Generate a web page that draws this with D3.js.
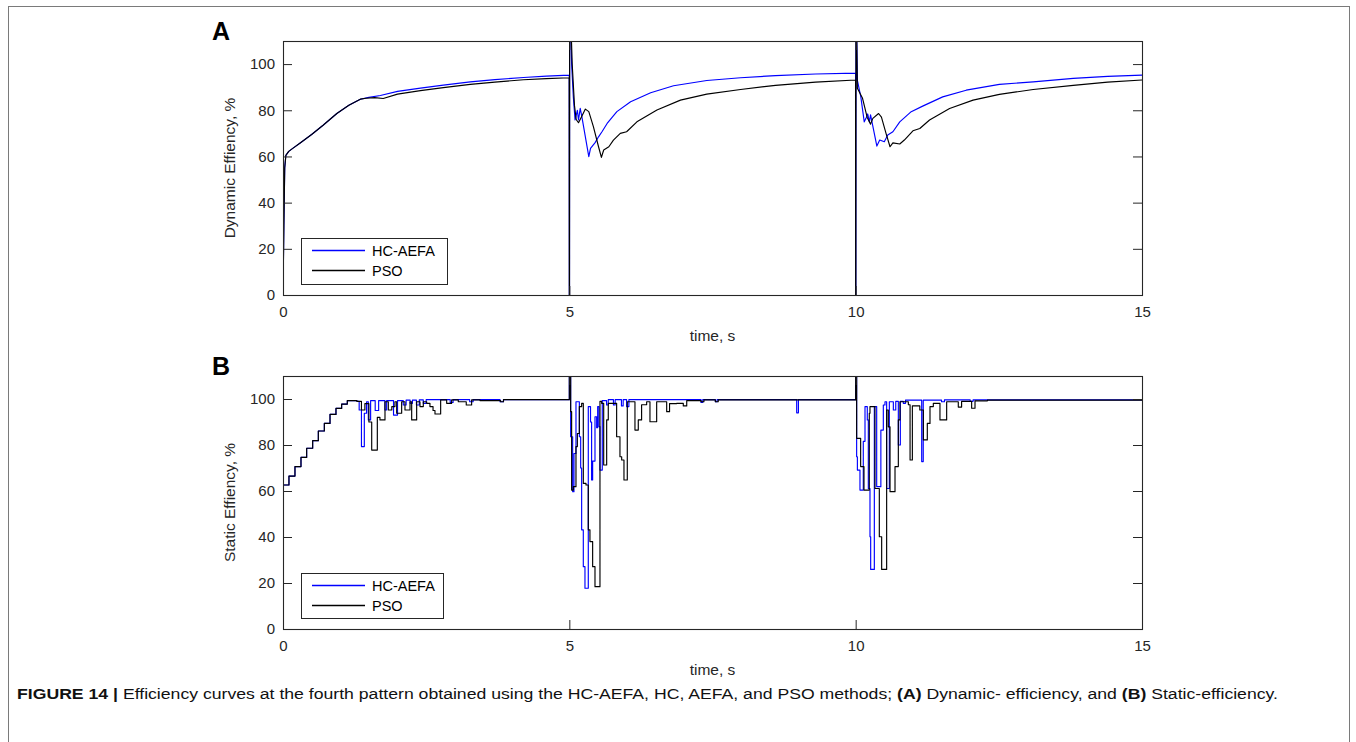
<!DOCTYPE html>
<html>
<head>
<meta charset="utf-8">
<script src="https://cdn.jsdelivr.net/npm/d3@7"></script>
<style>
  html, body { margin: 0; padding: 0; background: #fff; }
  svg { display: block; font-family: "Liberation Sans", Arial, Helvetica, sans-serif; }
</style>
</head>
<body>
<svg id="fig" width="1356" height="742"></svg>
<script>
// ---- data: [time (s), efficiency (%)] ----
const dynamicHC = [
  [0,0],[0.015,30],[0.03,55],[0.05,60.5],[0.1,62.2],[0.17,63.5],[0.3,65.8],[0.5,69.5],[0.7,73.5],
  [0.94,78.6],[1.15,82.2],[1.35,84.8],[1.5,85.6],[1.7,86.4],[2.0,88.2],[2.4,89.6],[2.8,90.9],
  [3.27,92.3],[3.7,93.3],[4.2,94.2],[4.6,94.8],[4.998,95.2],
  [5.0,0],[5.003,0],[5.006,135],[5.04,100],[5.07,85.8],[5.10,75.8],[5.14,80],[5.16,75.8],[5.19,80.8],
  [5.22,77],[5.34,59.9],[5.37,63.5],[5.45,66],[5.51,68.5],[5.57,70.7],[5.66,74.3],[5.83,79.4],
  [6.07,83.7],[6.42,87.6],[6.82,90.6],[7.4,92.9],[7.99,94.1],[8.6,95],[9.3,95.7],[9.998,96.1],
  [10.0,0],[10.003,0],[10.006,135],[10.03,93],[10.09,85.8],[10.15,75],[10.18,76.5],[10.21,78.4],
  [10.24,75],[10.26,78],[10.37,64.5],[10.42,67.1],[10.5,66.4],[10.56,69.3],[10.65,70.7],[10.77,75],
  [10.97,79.4],[11.17,81.8],[11.52,85.8],[11.93,88.7],[12.51,91.2],[13.1,92.3],[13.8,93.8],
  [14.4,94.7],[15,95.2]
];
const dynamicPSO = [
  [0,0],[0.015,30],[0.03,55],[0.05,60.5],[0.1,62.2],[0.17,63.5],[0.3,65.8],[0.5,69.5],[0.7,73.5],
  [0.94,78.6],[1.15,82.2],[1.35,84.8],[1.45,85.2],[1.6,85.5],[1.75,85.1],[2.0,87],[2.4,88.5],
  [2.8,89.8],[3.27,91.2],[3.7,92.2],[4.2,93.2],[4.6,93.7],[4.998,94.1],
  [5.0,0],[5.003,0],[5.006,135],[5.05,100],[5.09,82],[5.12,76],[5.16,74.6],[5.22,77.5],[5.28,80.5],
  [5.34,79.4],[5.42,72.9],[5.51,64.2],[5.56,59.6],[5.60,62.8],[5.69,64.2],[5.77,67.1],[5.89,70],
  [6.0,70.7],[6.18,75],[6.53,80.1],[6.94,84.4],[7.4,87],[7.99,89],[8.6,90.8],[9.3,92.2],[9.998,93.1],
  [10.0,0],[10.003,0],[10.006,135],[10.03,89.5],[10.12,85.2],[10.2,77],[10.26,74],[10.3,76.5],
  [10.4,78.6],[10.45,77],[10.53,70],[10.6,64.2],[10.65,65.9],[10.77,65.4],[10.85,67.1],[11.0,71.1],
  [11.12,72.1],[11.29,75.8],[11.64,80.8],[12.05,84.4],[12.51,86.9],[13.1,89],[13.8,90.8],
  [14.4,92.2],[15,93.1]
];
const staticHC = [
  [0,25],[0.004,62.6],[0.104,66.5],[0.209,70.6],[0.314,74.6],[0.413,78.6],[0.518,81.9],[0.617,86.1],
  [0.722,89.4],[0.821,93.3],[0.925,95.9],[1.024,97.8],[1.123,99.3],[1.29,99],[1.33,95.2],[1.37,79.3],
  [1.42,93.8],[1.46,98.8],[1.49,90.9],[1.53,99.3],[1.61,95],[1.67,99.3],[1.78,95.2],[1.81,99.3],
  [1.93,93],[2.0,99.3],[2.1,97.4],[2.15,99.5],[2.22,98.1],[2.26,99.5],[2.33,97.4],[2.38,99.6],
  [2.45,98.1],[2.5,99.7],[2.92,98.5],[2.97,99.7],[3.26,98.8],[3.32,99.7],[3.79,98.8],[3.85,99.7],
  [5.0,99.7],
  [5.0,115],[5.023,83.6],[5.058,59.7],[5.081,76.3],[5.116,98.8],[5.175,83.6],[5.198,70],[5.215,43.1],
  [5.244,27.1],[5.273,17.7],[5.331,96.7],[5.37,90],[5.389,64.8],[5.407,73],[5.448,92.3],[5.477,87.5],
  [5.495,96.7],[5.518,88],[5.535,69.1],[5.575,99.3],[5.65,97.4],[5.68,99.7],[5.77,97.4],[5.8,99.7],
  [5.91,97],[5.94,99.7],[6.0,96.7],[6.04,99.7],[7.3,98.5],[7.33,99.7],[7.55,98.8],[7.58,99.7],
  [8.97,94],[9.0,99.7],[10.0,99.7],
  [10.0,115],[10.017,74.9],[10.03,69.1],[10.075,60.4],[10.133,81.6],[10.163,96.7],[10.203,90.9],
  [10.221,61.1],[10.25,40.1],[10.262,25.9],[10.326,96.7],[10.367,61.9],[10.44,86.5],[10.483,97.4],
  [10.512,98.8],[10.541,61.1],[10.588,98.8],[10.658,95.2],[10.7,99],[10.745,80],[10.78,99],
  [10.832,98.1],[10.87,99.5],[11.153,72.8],[11.18,99.5],[11.5,98.8],[11.55,99.6],[12.0,99],
  [12.05,99.6],[15,99.6]
];
const staticPSO = [
  [0,80],[0.005,62.6],[0.104,66.5],[0.209,70.6],[0.314,74.6],[0.413,78.6],[0.518,81.9],[0.617,86.1],
  [0.722,89.4],[0.821,93.3],[0.925,95.9],[1.024,97.8],[1.123,99.3],[1.29,99],[1.37,95.2],[1.43,98],
  [1.5,90],[1.549,77.8],[1.647,92],[1.693,90.9],[1.781,98.8],[1.839,95.2],[1.9,96.7],[1.955,98.8],
  [1.985,93.8],[2.072,98.8],[2.13,95.2],[2.218,98.8],[2.247,90.9],[2.334,98.8],[2.392,96.7],
  [2.45,98.8],[2.509,98.1],[2.566,96.7],[2.62,95],[2.654,93.5],[2.753,99.6],[2.858,98.1],
  [2.945,99.6],[3.061,98.8],[3.2,97.4],[3.294,99.6],[3.44,99.3],[3.8,98.8],[3.85,99.7],[5.0,99.7],
  [5.0,115],[5.023,94.5],[5.04,60.4],[5.07,61.9],[5.116,79.3],[5.14,85],[5.175,96.7],[5.215,98.1],
  [5.244,63.3],[5.291,62.6],[5.331,43.1],[5.36,38],[5.407,27.1],[5.448,18.4],[5.535,99],[5.564,98.1],
  [5.6,71.3],[5.652,90.9],[5.68,98.1],[5.826,83.6],[5.884,74.9],[5.914,73.5],[5.954,64.8],
  [6.012,98.8],[6.146,86.5],[6.204,90.9],[6.262,97.5],[6.35,98.8],[6.408,90.1],[6.525,98.8],
  [6.7,94.5],[6.75,98],[6.874,98.1],[6.99,97],[7.05,99.3],[7.3,98.8],[7.35,99.6],[7.55,98.8],
  [7.6,99.6],[10.0,99.6],
  [10.0,115],[10.017,82.9],[10.087,70.6],[10.145,60.4],[10.238,93.8],[10.25,96.7],[10.337,61.1],
  [10.413,40.1],[10.454,25.9],[10.541,95.2],[10.57,87.9],[10.6,59.7],[10.687,70.6],[10.745,90.9],
  [10.774,98.8],[10.92,97.5],[10.95,73.5],[10.99,97],[11.12,95.2],[11.182,82.2],[11.251,89.4],
  [11.298,96.7],[11.356,98.1],[11.472,90.9],[11.589,98.8],[11.792,96.5],[11.85,99],[12.025,96],
  [12.084,99.2],[12.3,99.5],[15,99.5]
];

const xTicks = [0, 5, 10, 15];
const yTicks = [0, 20, 40, 60, 80, 100];
const seriesNames = ["HC-AEFA", "PSO"];
const seriesColors = ["#0000ff", "#000000"];
const panelLetters = ["A", "B"];
const yTitles = ["Dynamic Effiency, %", "Static Effiency, %"];
const xTitle = "time, s";

const svg = d3.select("#fig");

// outer frame of the figure
svg.append("rect").attr("x", 8.5).attr("y", 6.5).attr("width", 1341).attr("height", 760)
  .attr("fill", "none").attr("stroke", "#7a7a7a").attr("stroke-width", 1);

const panels = [
  { top: 41, bottom: 295, data: [dynamicHC, dynamicPSO], curve: d3.curveLinear,
    legend: { x: 301, y: 238, w: 146, h: 46 } },
  { top: 376, bottom: 629, data: [staticHC, staticPSO], curve: d3.curveStepAfter,
    legend: { x: 301, y: 573, w: 142, h: 45 } }
];
const left = 283, right = 1142;

panels.forEach((p, i) => {
  const x = d3.scaleLinear().domain([0, 15]).range([left, right]);
  const y = d3.scaleLinear().domain([0, 110]).range([p.bottom, p.top]);
  const g = svg.append("g");

  const clipId = "clip" + i;
  svg.append("clipPath").attr("id", clipId).append("rect")
    .attr("x", left).attr("y", p.top).attr("width", right - left).attr("height", p.bottom - p.top);

  // curves (HC-AEFA underneath, PSO on top)
  const line = d3.line().x(d => x(d[0])).y(d => y(d[1])).curve(p.curve);
  p.data.forEach((series, k) => {
    g.append("path").datum(series).attr("d", line)
      .attr("clip-path", `url(#${clipId})`)
      .attr("fill", "none").style("stroke", seriesColors[k])
      .attr("stroke-width", 1.15).attr("stroke-linejoin", "round");
  });

  // axes with inward ticks on all four sides
  const tick = 9;
  const axB = d3.axisBottom(x).tickValues(xTicks).tickSizeInner(-tick).tickSizeOuter(0).tickPadding(11);
  const axT = d3.axisTop(x).tickValues(xTicks).tickSizeInner(-tick).tickSizeOuter(0).tickFormat("");
  const axL = d3.axisLeft(y).tickValues(yTicks).tickSizeInner(-tick).tickSizeOuter(0).tickPadding(8);
  const axR = d3.axisRight(y).tickValues(yTicks).tickSizeInner(-tick).tickSizeOuter(0).tickFormat("");
  [[axB, `translate(0,${p.bottom})`], [axT, `translate(0,${p.top})`],
   [axL, `translate(${left},0)`], [axR, `translate(${right},0)`]].forEach(([ax, tr]) => {
    const a = g.append("g").attr("transform", tr).call(ax);
    a.select(".domain").remove();
    a.selectAll("line").attr("stroke", "#262626");
    a.selectAll("text").attr("fill", "#262626").style("font-size", "15px")
      .style("font-family", '"Liberation Sans", Arial, sans-serif');
  });

  g.append("rect").attr("x", left + 0.5).attr("y", p.top + 0.5)
    .attr("width", right - left).attr("height", p.bottom - p.top)
    .attr("fill", "none").attr("stroke", "#262626").attr("stroke-width", 1.1);

  // titles
  g.append("text").attr("x", (left + right) / 2).attr("y", p.bottom + 46)
    .attr("text-anchor", "middle").attr("fill", "#262626").style("font-size", "15.5px").text(xTitle);
  g.append("text").attr("transform", `translate(235,${(p.top + p.bottom) / 2}) rotate(-90)`)
    .attr("text-anchor", "middle").attr("fill", "#262626").style("font-size", "15.5px").text(yTitles[i]);
  g.append("text").attr("x", 212).attr("y", p.top - 1).attr("font-weight", "bold")
    .style("font-size", "25px").attr("fill", "#000").text(panelLetters[i]);

  // legend
  const L = p.legend;
  const lg = svg.append("g");
  lg.append("rect").attr("x", L.x + 0.5).attr("y", L.y + 0.5).attr("width", L.w).attr("height", L.h)
    .attr("fill", "#fff").attr("stroke", "#262626").attr("stroke-width", 1);
  seriesNames.forEach((name, k) => {
    const yy = L.y + 12.5 + k * 20;
    lg.append("line").attr("x1", L.x + 11).attr("x2", L.x + 64).attr("y1", yy).attr("y2", yy)
      .style("stroke", seriesColors[k]).attr("stroke-width", 1.3);
    lg.append("text").attr("x", L.x + 71).attr("y", yy + 5).attr("fill", "#000")
      .style("font-size", "14.5px").text(name);
  });
});

// caption
const cap = svg.append("text").attr("x", 17).attr("y", 699).attr("fill", "#111")
  .style("font-size", "15.5px").attr("textLength", 1261).attr("lengthAdjust", "spacingAndGlyphs");
cap.append("tspan").attr("font-weight", "bold").text("FIGURE 14 | ");
cap.append("tspan").text("Efficiency curves at the fourth pattern obtained using the HC-AEFA, HC, AEFA, and PSO methods; ");
cap.append("tspan").attr("font-weight", "bold").text("(A)");
cap.append("tspan").text(" Dynamic- efficiency, and ");
cap.append("tspan").attr("font-weight", "bold").text("(B)");
cap.append("tspan").text(" Static-efficiency.");
</script>
</body>
</html>
